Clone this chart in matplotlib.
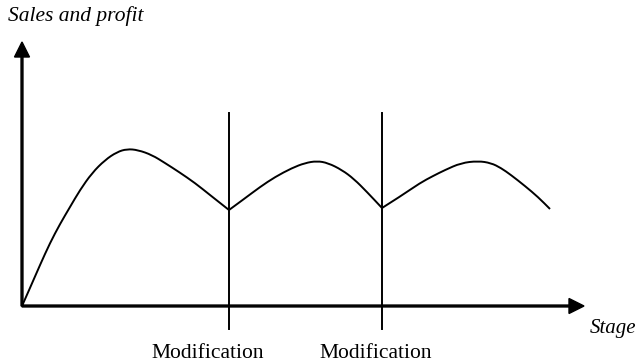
import matplotlib
matplotlib.use('Agg')
import matplotlib.pyplot as plt
from matplotlib.path import Path
from matplotlib.patches import PathPatch

# curve, one list pair per stage (x = stage, y = sales and profit)
stage1_x = [0, 8, 18, 28, 38, 48, 58, 70, 83, 95, 105, 116, 130, 143, 157, 173, 188, 207]
stage1_y = [0, 18, 41, 63, 82, 99, 116, 133, 146, 154, 157, 156, 151, 143, 134, 123, 111, 96]
stage2_x = [207, 222, 238, 253, 270, 283, 295, 306, 320, 332, 345, 360]
stage2_y = [96, 107, 119, 129, 138, 143, 145, 143, 136, 127, 114, 98]
stage3_x = [360, 379, 398, 411, 423, 439, 456, 469, 479, 489, 503, 516, 528]
stage3_y = [98, 110, 123, 130, 136, 143, 145, 143, 138, 131, 120, 109, 97]

modification_x = [207, 360]
modification_labels = ['Modification', 'Modification']

y_label = 'Sales and profit'
x_label = 'Stage'


def smooth_path(xs, ys):
    # quadratic bezier through the midpoints, samples used as control points
    verts = [(xs[0], ys[0])]
    codes = [Path.MOVETO]
    for i in range(1, len(xs) - 1):
        verts += [(xs[i], ys[i]), ((xs[i] + xs[i + 1]) / 2, (ys[i] + ys[i + 1]) / 2)]
        codes += [Path.CURVE3, Path.CURVE3]
    verts.append((xs[-1], ys[-1]))
    codes.append(Path.LINETO)
    return Path(verts, codes)


fig = plt.figure(figsize=(6.37, 3.64), dpi=100)
ax = fig.add_axes([0, 0, 1, 1])
ax.set_xlim(-22, 615)
ax.set_ylim(-58, 306)
ax.axis('off')

lw = 1.4
for xs, ys in [(stage1_x, stage1_y), (stage2_x, stage2_y), (stage3_x, stage3_y)]:
    ax.add_patch(PathPatch(smooth_path(xs, ys), fill=False, edgecolor='black',
                           lw=lw, joinstyle='round'))

# axes with arrow heads
ax.arrow(0, 0, 0, 264, width=1.9, head_width=15, head_length=15,
         length_includes_head=True, color='black')
ax.arrow(0, 0, 562, 0, width=1.9, head_width=15, head_length=15,
         length_includes_head=True, color='black')

label_shift = [-21, -6]
for mx, lab, dx in zip(modification_x, modification_labels, label_shift):
    ax.plot([mx, mx], [-23, 193], color='black', lw=lw)
    ax.text(mx + dx, -48, lab, ha='center', va='center', fontsize=15.5,
            family='Liberation Serif')

ax.text(-14, 290, y_label, ha='left', va='center', fontsize=15.5,
        family='Liberation Serif', style='italic')
ax.text(568, -23, x_label, ha='left', va='center', fontsize=15,
        family='Liberation Serif', style='italic')

fig.savefig('out.png', dpi=100)
